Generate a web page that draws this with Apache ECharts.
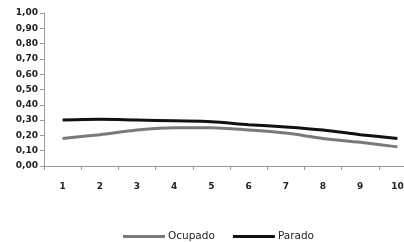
<!DOCTYPE html>
<html>
<head>
<meta charset="utf-8">
<script src="https://cdn.jsdelivr.net/npm/echarts@6/dist/echarts.min.js"></script>
<style>
html,body{margin:0;padding:0;background:#fff;}
#chart{width:404px;height:242px;}
</style>
</head>
<body>
<div id="chart"></div>
<script>
const categories = ['1', '2', '3', '4', '5', '6', '7', '8', '9', '10']
const ocupado = [0.18, 0.205, 0.235, 0.25, 0.25, 0.235, 0.215, 0.18, 0.155, 0.125]
const parado = [0.30, 0.305, 0.30, 0.295, 0.29, 0.27, 0.255, 0.235, 0.205, 0.18]

const chart = echarts.init(document.getElementById('chart'))
const labelStyle = { color: '#222', fontSize: 9, fontWeight: 'bold', fontFamily: 'DejaVu Sans' }

const option = {
	animation: false,
	grid: { left: 44, width: 372, top: 13, height: 153, outerBoundsMode: 'none', containLabel: false },
	legend: {
		top: 226,
		left: 118,
		itemWidth: 42,
		itemHeight: 3,
		itemGap: 18,
		icon: 'rect',
		textStyle: { color: '#222', fontSize: 10.5, fontFamily: 'DejaVu Sans', padding: [0, 0, 0, -2] },
		data: ['Ocupado', 'Parado']
	},
	xAxis: {
		type: 'category',
		data: categories,
		boundaryGap: true,
		axisLine: { lineStyle: { color: '#999' } },
		axisTick: { show: true, length: 4, lineStyle: { color: '#999' } },
		axisLabel: Object.assign({ margin: 16 }, labelStyle)
	},
	yAxis: {
		type: 'value',
		min: 0,
		max: 1,
		interval: 0.1,
		splitLine: { show: false },
		axisLine: { show: true, lineStyle: { color: '#999' } },
		axisTick: { show: true, length: 4, lineStyle: { color: '#999' } },
		axisLabel: Object.assign({
			margin: 6,
			formatter: v => v.toFixed(2).replace('.', ',')
		}, labelStyle)
	},
	series: [
		{
			name: 'Ocupado',
			type: 'line',
			data: ocupado,
			showSymbol: false,
			smooth: 0.3,
			color: '#7a7a7a',
			lineStyle: { width: 3, color: '#7a7a7a' }
		},
		{
			name: 'Parado',
			type: 'line',
			data: parado,
			showSymbol: false,
			smooth: 0.3,
			color: '#111',
			lineStyle: { width: 3, color: '#111' }
		}
	]
}
chart.setOption(option)
</script>
</body>
</html>
